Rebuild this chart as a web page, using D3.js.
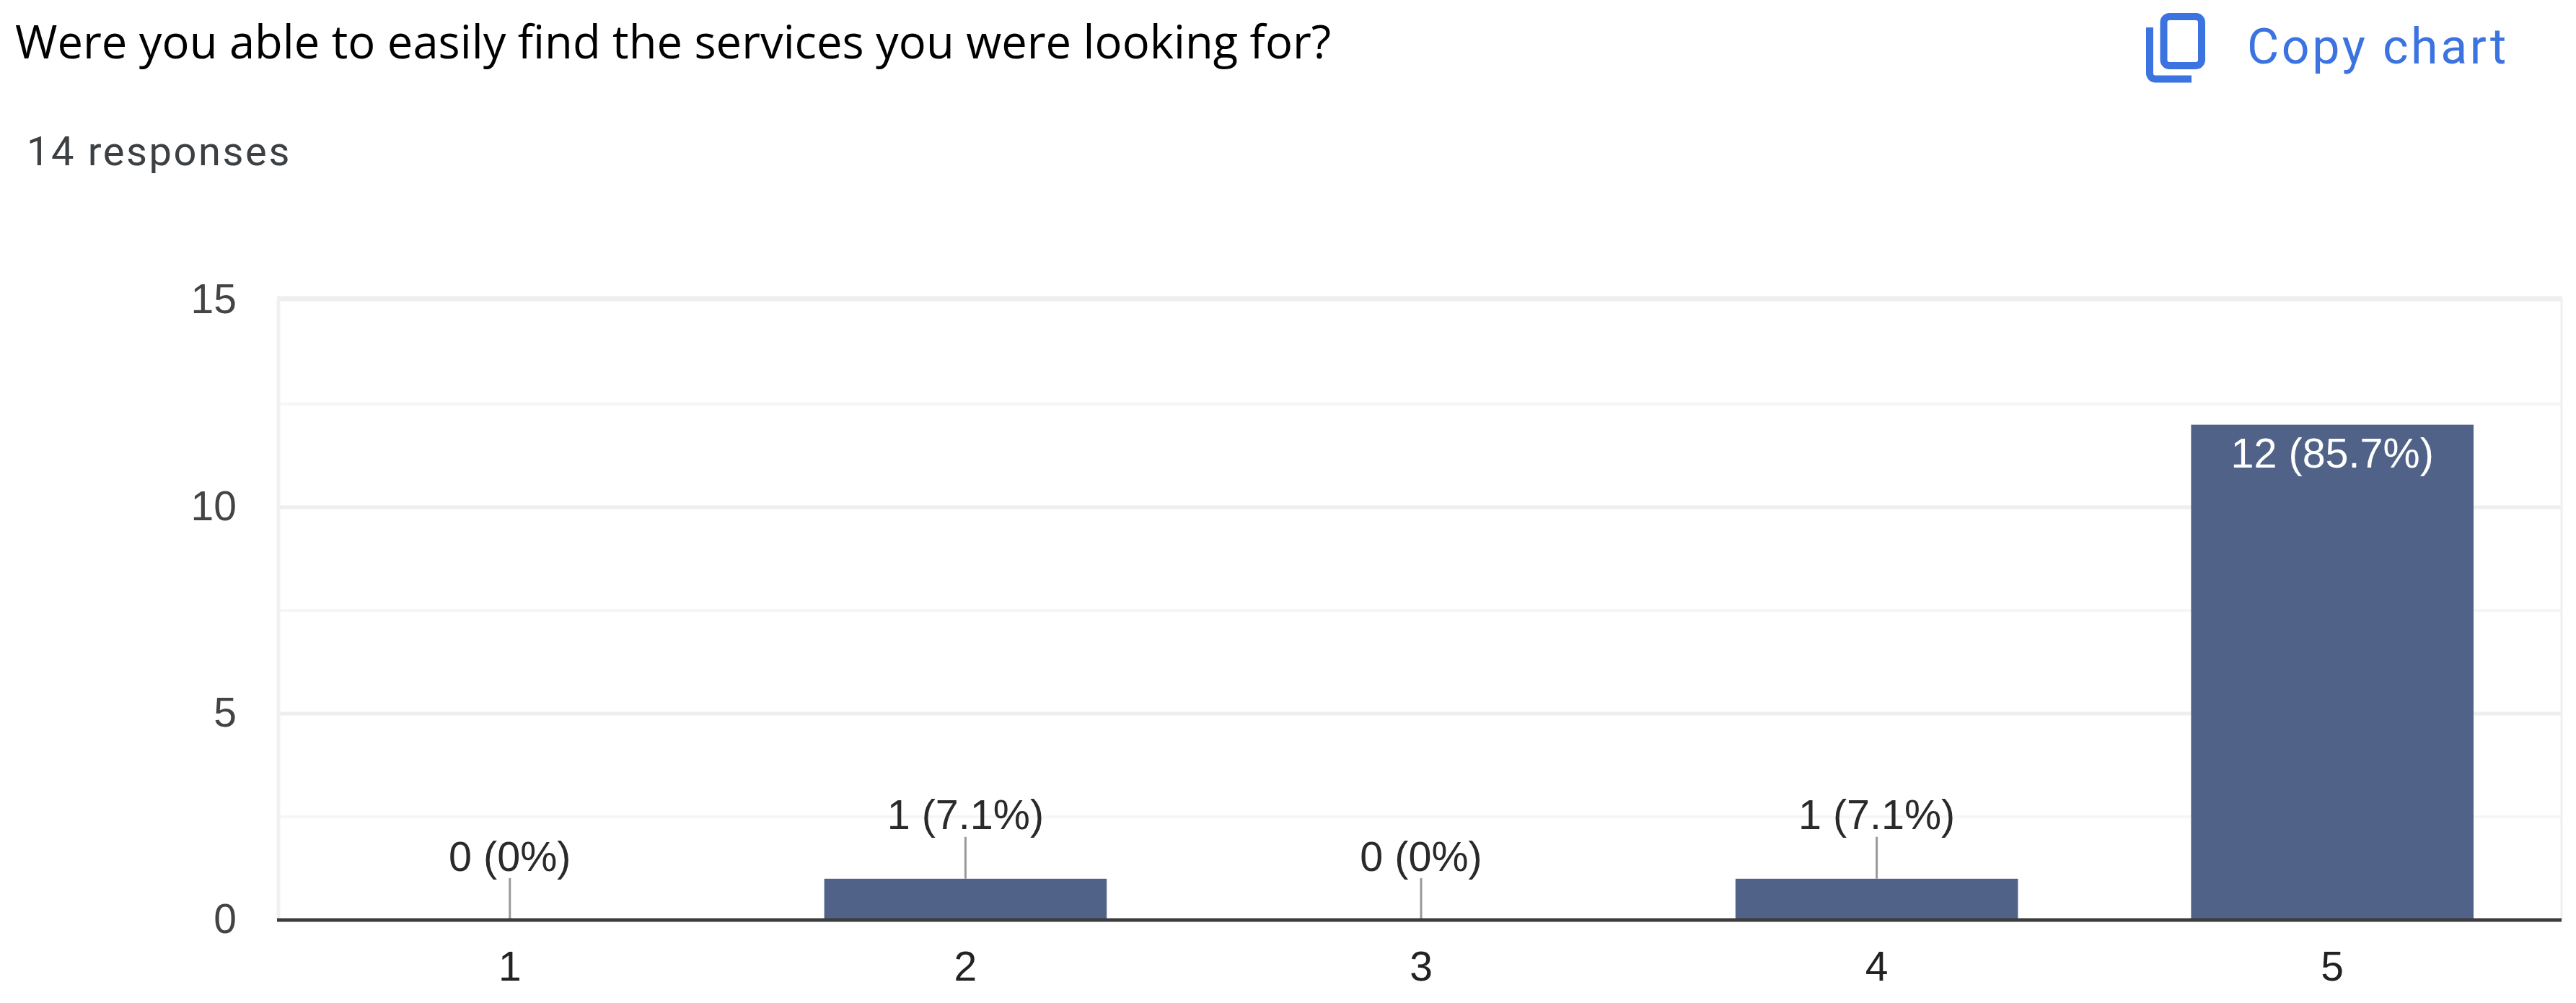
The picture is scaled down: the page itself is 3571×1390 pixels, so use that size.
<!DOCTYPE html>
<html><head><meta charset="utf-8">
<script src="https://cdn.jsdelivr.net/npm/d3@7"></script>
<style>html,body{margin:0;padding:0;background:#fff}svg{display:block}</style></head>
<body><svg id="c" width="3571" height="1390"></svg>
<script>
const categories = ["1","2","3","4","5"];
const counts = [0,1,0,1,12];
const dataLabels = ["0 (0%)","1 (7.1%)","0 (0%)","1 (7.1%)","12 (85.7%)"];
const yMajor = [0,5,10,15];
const yMinor = [2.5,7.5,12.5];
const titleText = "Were you able to easily find the services you were looking for?";
const subText = "14 responses";
const copyText = "Copy chart";

const svg = d3.select("#c");
const axisFont = "'Liberation Sans', Arial, sans-serif";
const plotL = 386, plotR = 3551, plotT = 417, plotB = 1275, frameT = 414;
const x = d3.scaleBand().domain(categories).range([391,3549]).paddingInner(0.38).paddingOuter(0.19);
const y = d3.scaleLinear().domain([0,15]).range([plotB,plotT]);

svg.append("text").attr("x",21).attr("y",81).attr("font-family","'Open Sans'").attr("font-size",63.3).attr("fill","#000").text(titleText);
svg.append("text").attr("x",37).attr("y",229).attr("font-family","Roboto").attr("font-size",56).attr("letter-spacing",2.6).attr("fill","#3c4043").text(subText);
svg.append("text").attr("x",3115).attr("y",88).attr("font-family","Roboto").attr("font-size",68).attr("letter-spacing",3.6).attr("fill","#3b74e0").text(copyText);

// copy icon
const ic = svg.append("g").attr("fill","none").attr("stroke","#3b74e0").attr("stroke-width",10);
ic.append("rect").attr("x",2999.5).attr("y",23).attr("width",52.5).attr("height",68).attr("rx",8);
ic.append("path").attr("d","M2980 38V101.5a8 8 0 0 0 8 8H3038");

// grid
const g = svg.append("g");
g.selectAll(".minor").data(yMinor).join("line").attr("class","minor").attr("x1",plotL).attr("x2",plotR)
 .attr("y1",d=>y(d)).attr("y2",d=>y(d)).attr("stroke","#f6f6f6").attr("stroke-width",4);
g.selectAll(".major").data(yMajor.slice(1,3)).join("line").attr("class","major").attr("x1",plotL).attr("x2",plotR)
 .attr("y1",d=>y(d)).attr("y2",d=>y(d)).attr("stroke","#eeeeee").attr("stroke-width",5);
g.append("line").attr("x1",plotL-2).attr("x2",plotR+1).attr("y1",frameT).attr("y2",frameT).attr("stroke","#eeeeee").attr("stroke-width",7);
[plotL,plotR].forEach((v,i)=>g.append("line").attr("x1",v).attr("x2",v).attr("y1",frameT).attr("y2",plotB).attr("stroke","#f0f0f0").attr("stroke-width",i?3:5));

// bars
svg.selectAll("rect.bar").data(counts).join("rect").attr("class","bar")
 .attr("x",(d,i)=>x(categories[i])).attr("width",x.bandwidth())
 .attr("y",d=>y(d)).attr("height",d=>plotB-y(d)).attr("fill","#516288");

// stems + labels
const cx = i => x(categories[i]) + x.bandwidth()/2;
counts.forEach((d,i)=>{
  if(d<6){
    svg.append("line").attr("x1",cx(i)).attr("x2",cx(i)).attr("y1",y(d)).attr("y2",y(d)-58).attr("stroke","#999999").attr("stroke-width",3);
    svg.append("text").attr("x",cx(i)).attr("y",y(d)-68.5).attr("text-anchor","middle").attr("font-family",axisFont).attr("font-size",57.5).attr("fill","#2a2a2a").text(dataLabels[i]);
  } else {
    svg.append("text").attr("x",cx(i)).attr("y",y(d)+59).attr("text-anchor","middle").attr("font-family",axisFont).attr("font-size",57.5).attr("fill","#fff").text(dataLabels[i]);
  }
});

// axes
const xAxis = d3.axisBottom(x).tickSize(0).tickPadding(44);
const xg = svg.append("g").attr("transform",`translate(0,${plotB})`).call(xAxis);
xg.select(".domain").remove();
xg.selectAll("text").attr("font-family",axisFont).attr("font-size",57).attr("fill","#222");
const yAxis = d3.axisLeft(y).tickValues(yMajor).tickSize(0).tickPadding(58);
const yg = svg.append("g").attr("transform",`translate(${plotL},0)`).call(yAxis);
yg.select(".domain").remove();
yg.selectAll("text").attr("font-family",axisFont).attr("font-size",57).attr("fill","#444")
  .attr("dy",d=>d===15?"0.29em":"0.3em");
svg.append("line").attr("x1",plotL-2).attr("x2",plotR).attr("y1",plotB).attr("y2",plotB).attr("stroke","#3c3c3c").attr("stroke-width",5);
</script></body></html>
